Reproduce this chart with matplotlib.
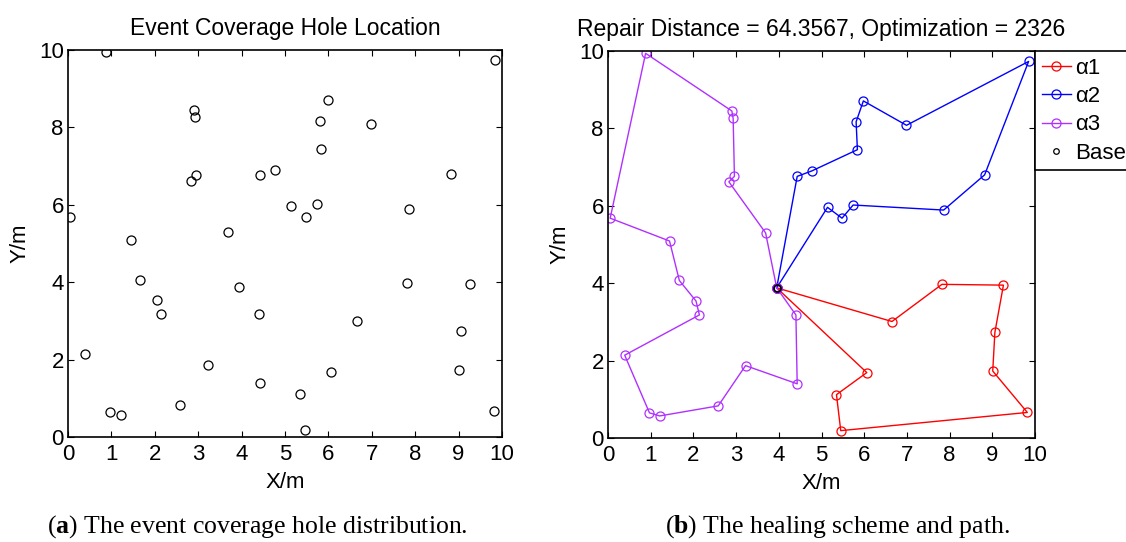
import numpy as np
import matplotlib.pyplot as plt
from matplotlib.lines import Line2D

plt.rcParams['font.family'] = ['Liberation Sans', 'DejaVu Sans']
plt.rcParams['mathtext.fontset'] = 'custom'
plt.rcParams['mathtext.bf'] = 'Liberation Serif:bold'
plt.rcParams['mathtext.rm'] = 'Liberation Serif'

# hole locations (x, y) in metres
hole_x = [0.88, 2.90, 2.93, 2.83, 2.96, 4.43, 4.77, 0.05, 3.69, 5.14,
          9.85, 5.98, 5.81, 6.99, 5.84, 8.82, 5.48, 5.74, 7.86, 1.44,
          1.67, 2.06, 2.14, 3.95, 4.40, 0.39, 3.22, 4.43, 0.97, 1.21,
          2.58, 7.82, 9.26, 6.65, 9.06, 6.06, 9.01, 5.35, 5.45, 9.82]
hole_y = [9.94, 8.45, 8.26, 6.62, 6.76, 6.76, 6.90, 5.68, 5.30, 5.96,
          9.73, 8.71, 8.17, 8.08, 7.45, 6.80, 5.68, 6.02, 5.89, 5.09,
          4.07, 3.54, 3.18, 3.88, 3.18, 2.14, 1.87, 1.40, 0.65, 0.57,
          0.83, 3.97, 3.95, 3.01, 2.73, 1.69, 1.73, 1.12, 0.19, 0.66]

base = (3.95, 3.88)

# healing paths (start and end at base)
a1_x = [3.95, 6.65, 7.82, 9.26, 9.06, 9.01, 9.82, 5.45, 5.35, 6.06, 3.95]
a1_y = [3.88, 3.01, 3.97, 3.95, 2.73, 1.73, 0.66, 0.19, 1.12, 1.69, 3.88]
a2_x = [3.95, 4.43, 4.77, 5.84, 5.81, 5.98, 6.99, 9.85, 8.82, 7.86, 5.74, 5.48, 5.14, 3.95]
a2_y = [3.88, 6.76, 6.90, 7.45, 8.17, 8.71, 8.08, 9.73, 6.80, 5.89, 6.02, 5.68, 5.96, 3.88]
a3_x = [3.95, 3.69, 2.83, 2.96, 2.93, 2.90, 0.88, 0.05, 1.44, 1.67, 2.06, 2.14,
        0.39, 0.97, 1.21, 2.58, 3.22, 4.43, 4.40, 3.95]
a3_y = [3.88, 5.30, 6.62, 6.76, 8.26, 8.45, 9.94, 5.68, 5.09, 4.07, 3.54, 3.18,
        2.14, 0.65, 0.57, 0.83, 1.87, 1.40, 3.18, 3.88]

fs = 16
purple = '#b030ff'
ms = 6.5

fig = plt.figure(figsize=(11.26, 5.42), dpi=100)
ax1 = fig.add_axes([0.0604, 0.1937, 0.3854, 0.714])
ax2 = fig.add_axes([0.540, 0.1919, 0.3792, 0.714])

def style(ax):
    ax.set_xlim(0, 10)
    ax.set_ylim(0, 10)
    ax.set_xticks(np.arange(0, 11, 1))
    ax.set_yticks(np.arange(0, 11, 2))
    ax.tick_params(direction='in', top=True, right=True, length=4,
                   labelsize=fs, width=0.8)
    ax.tick_params(axis='x', pad=5)
    ax.tick_params(axis='y', pad=3)
    for s in ax.spines.values():
        s.set_linewidth(1.2)
    ax.set_xlabel('X/m', fontsize=fs, labelpad=5)
    ax.set_ylabel('Y/m', fontsize=fs, labelpad=6)

ax1.plot(hole_x, hole_y, ls='', marker='o', mfc='none', mec='k', ms=ms, mew=0.9)
ax1.set_title('Event Coverage Hole Location', fontsize=16.5, pad=11)
style(ax1)

ax2.plot(a1_x, a1_y, color='#ff0000', marker='o', mfc='none', ms=ms, lw=1, mew=0.9)
ax2.plot(a2_x, a2_y, color='#0000ff', marker='o', mfc='none', ms=ms, lw=1, mew=0.9)
ax2.plot(a3_x, a3_y, color=purple, marker='o', mfc='none', ms=ms, lw=1, mew=0.9)
ax2.plot([base[0]], [base[1]], ls='', marker='o', mfc='none', mec='k', ms=5, mew=1.3)
ax2.set_title('Repair Distance = 64.3567, Optimization = 2326', fontsize=16.5, pad=11)
style(ax2)

handles = [
    Line2D([], [], color='#ff0000', marker='o', mfc='none', ms=ms, lw=1, mew=0.9),
    Line2D([], [], color='#0000ff', marker='o', mfc='none', ms=ms, lw=1, mew=0.9),
    Line2D([], [], color=purple, marker='o', mfc='none', ms=ms, lw=1, mew=0.9),
    Line2D([], [], ls='', color='k', marker='o', mfc='none', ms=4, mew=0.9),
]
labels = ['α1', 'α2', 'α3', 'Base']
leg = ax2.legend(handles, labels, loc='upper left', bbox_to_anchor=(1.0, 1.0),
                 borderaxespad=0, fontsize=fs, fancybox=False, edgecolor='k',
                 framealpha=1, handlelength=1.3, handletextpad=0.2,
                 labelspacing=0.33, borderpad=0.3)
leg.get_frame().set_linewidth(1.2)

fig.text(0.229, 0.028, r'($\mathbf{a}$) The event coverage hole distribution.',
         fontsize=18.5, family='Liberation Serif', ha='center', va='center')
fig.text(0.744, 0.028, r'($\mathbf{b}$) The healing scheme and path.',
         fontsize=18.5, family='Liberation Serif', ha='center', va='center')

fig.savefig('out.png', dpi=100)
